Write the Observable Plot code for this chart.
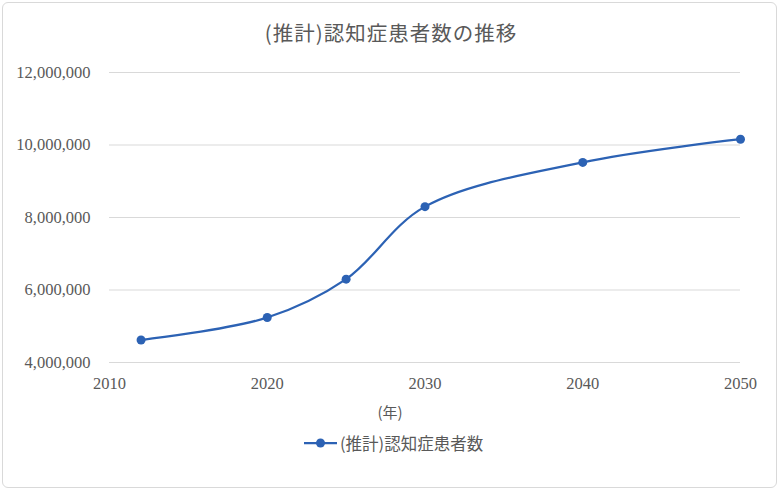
<!DOCTYPE html>
<html>
<head>
<meta charset="utf-8">
<script src="https://cdn.jsdelivr.net/npm/d3@7"></script>
<script src="https://cdn.jsdelivr.net/npm/@observablehq/plot@0.6"></script>
<style>
  html, body { margin: 0; padding: 0; background: #fff; }
  #wrap { position: relative; width: 782px; height: 492px; overflow: hidden; background: #fff; }
  #frame { position: absolute; left: 2px; top: 2px; width: 775px; height: 486px; box-sizing: border-box;
           border: 1px solid #d9d9d9; border-radius: 6px; }
  #title { position: absolute; left: 0; width: 782px; top: 19px; text-align: center;
           font-family: "Noto Sans CJK JP", sans-serif; font-size: 20.5px; letter-spacing: 1px; color: #595959; line-height: 26px; }
  #chart { position: absolute; left: 0; top: 0; }
  #chart svg, #chart svg g, #chart svg text { font-family: "Liberation Serif", serif !important; }
  #xlabel { position: absolute; left: 340px; width: 100px; top: 401px; text-align: center;
            font-family: "Noto Sans CJK JP", sans-serif; font-size: 15px; color: #595959; line-height: 22px; }
  #legend { position: absolute; left: 304px; top: 431px; height: 24px; display: flex; align-items: center;
            font-family: "Noto Sans CJK JP", sans-serif; font-size: 16.5px; color: #595959; }
  #legend svg { margin-right: 3px; }
</style>
</head>
<body>
<div id="wrap">
  <div id="frame"></div>
  <div id="chart"></div>
  <div id="title"></div>
  <div id="xlabel"></div>
  <div id="legend"></div>
</div>
<script>
const chartTitle = "(推計)認知症患者数の推移";
const seriesName = "(推計)認知症患者数";
const xAxisLabel = "(年)";
const years = [2012, 2020, 2025, 2030, 2040, 2050];
const patients = [4620000, 5240000, 6300000, 8300000, 9520000, 10160000];
const xTicks = [2010, 2020, 2030, 2040, 2050];
const yTicks = [4000000, 6000000, 8000000, 10000000, 12000000];

const blue = "#2c62b4";
const serif = "Liberation Serif";
const data = years.map((y, i) => ({year: y, value: patients[i]}));

document.getElementById("title").textContent = chartTitle;
document.getElementById("xlabel").textContent = xAxisLabel;

const plot = Plot.plot({
  width: 782,
  height: 420,
  marginLeft: 109,
  marginRight: 42,
  marginTop: 72,
  marginBottom: 58,
  style: {fontFamily: serif, fontSize: "16.5px", color: "#595959", background: "transparent"},
  x: {domain: [2010, 2050], ticks: xTicks, tickFormat: d => String(d)},
  y: {domain: [4000000, 12000000], ticks: yTicks, tickFormat: d => d3.format(",")(d)},
  marks: [
    Plot.gridY(yTicks, {stroke: "#d9d9d9", strokeOpacity: 1, strokeWidth: 1}),
    Plot.axisX({ticks: xTicks, tickSize: 0, tickPadding: 14.5, label: null, tickFormat: d => String(d), fill: "#595959", fontFamily: serif, fontSize: 16.5}),
    Plot.axisY({ticks: yTicks, tickSize: 0, tickPadding: 19, label: null, tickFormat: d => d3.format(",")(d), fill: "#595959", fontFamily: serif, fontSize: 16.5}),
    Plot.line(data, {x: "year", y: "value", stroke: blue, strokeWidth: 2.25, curve: "catmull-rom"}),
    Plot.dot(data, {x: "year", y: "value", fill: blue, r: 4.5})
  ]
});
document.getElementById("chart").appendChild(plot);

const legend = document.getElementById("legend");
const ns = "http://www.w3.org/2000/svg";
const ls = document.createElementNS(ns, "svg");
ls.setAttribute("width", 33); ls.setAttribute("height", 12);
const ln = document.createElementNS(ns, "line");
ln.setAttribute("x1", 0); ln.setAttribute("x2", 33); ln.setAttribute("y1", 6); ln.setAttribute("y2", 6);
ln.setAttribute("stroke", blue); ln.setAttribute("stroke-width", 2.25);
const c = document.createElementNS(ns, "circle");
c.setAttribute("cx", 16.5); c.setAttribute("cy", 6); c.setAttribute("r", 4.5); c.setAttribute("fill", blue);
ls.appendChild(ln); ls.appendChild(c);
legend.appendChild(ls);
const sp = document.createElement("span");
sp.textContent = seriesName;
legend.appendChild(sp);
</script>
</body>
</html>
